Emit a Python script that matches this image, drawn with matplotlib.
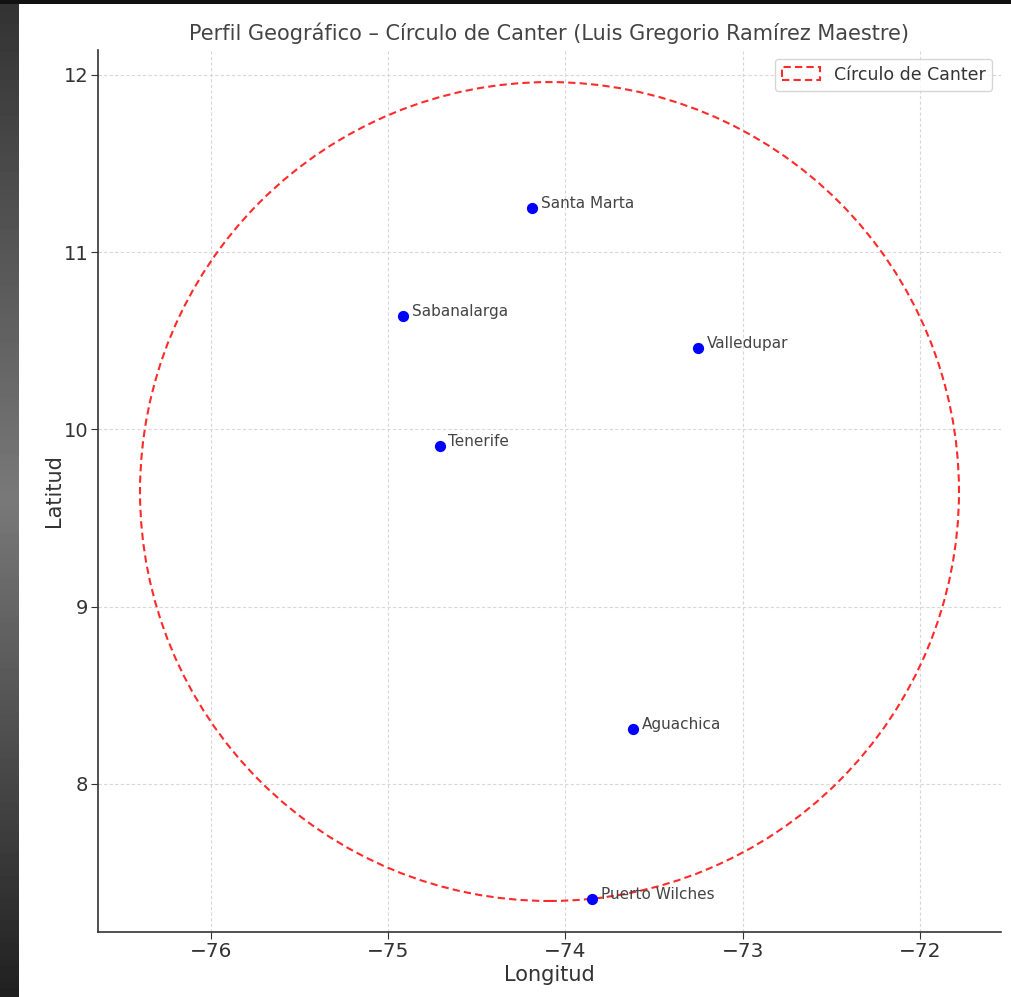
import numpy as np
import matplotlib
matplotlib.use("Agg")
import matplotlib.pyplot as plt
from matplotlib.patches import Circle

# Ciudades y coordenadas
ciudades = ['Santa Marta', 'Sabanalarga', 'Valledupar', 'Tenerife', 'Aguachica', 'Puerto Wilches']
longitudes = [-74.19, -74.915, -73.25, -74.71, -73.62, -73.85]
latitudes = [11.25, 10.64, 10.46, 9.905, 8.31, 7.35]

# Círculo de Canter
centro = (-74.09, 9.65)
radio = 2.31

xticks = [-76, -75, -74, -73, -72]
yticks = [8, 9, 10, 11, 12]

W, H = 1012, 997
fig = plt.figure(figsize=(W / 100, H / 100), dpi=100)
fig.patch.set_facecolor('white')

# borde oscuro de la captura de pantalla
borde = fig.add_axes([0, 0, 19 / W, 1])
grad = np.concatenate([np.linspace(0.2, 0.47, 50), np.linspace(0.47, 0.13, 50)])
borde.imshow(grad[:, None], cmap='gray', vmin=0, vmax=1, aspect='auto', interpolation='bilinear')
borde.axis('off')
arriba = fig.add_axes([0, 1 - 4 / H, 1, 4 / H])
arriba.set_facecolor('#111111')
arriba.set_xticks([])
arriba.set_yticks([])
for s in arriba.spines.values():
    s.set_visible(False)

ax = fig.add_axes([98 / W, 65 / H, 903 / W, 882 / H])
ax.set_xlim(-76.637, -71.543)
ax.set_ylim(7.165, 12.141)
ax.set_aspect('equal', adjustable='datalim')

circulo = Circle(centro, radio, fill=False, edgecolor='#ff2a2a', linestyle=(0, (3.5, 2)),
                 linewidth=1.5, label='Círculo de Canter')
ax.add_patch(circulo)

ax.scatter(longitudes, latitudes, color='blue', s=50, zorder=3)
for nombre, lon, lat in zip(ciudades, longitudes, latitudes):
    ax.text(lon + 0.05, lat, nombre, fontsize=11, color='#444444')

ax.set_xticks(xticks)
ax.set_yticks(yticks)
ax.set_xticklabels([f'\u2212{abs(t)}' for t in xticks])
ax.tick_params(labelsize=14.5, colors='#333333', length=5, pad=2)
ax.tick_params(axis='y', labelsize=14)
ax.grid(True, linestyle=(0, (3, 2)), color='#d8d8d8', linewidth=0.8)
ax.set_axisbelow(True)
for s in ['top', 'right']:
    ax.spines[s].set_visible(False)
for s in ['left', 'bottom']:
    ax.spines[s].set_color('#333333')
    ax.spines[s].set_linewidth(1.2)

ax.set_title('Perfil Geográfico – Círculo de Canter (Luis Gregorio Ramírez Maestre)',
             fontsize=15, color='#444444', pad=7)
ax.set_xlabel('Longitud', fontsize=15, color='#333333', labelpad=3)
ax.set_ylabel('Latitud', fontsize=15, color='#333333', labelpad=0)
ax.legend(loc='upper right', fontsize=12.5, labelcolor='#333333', borderaxespad=0.5,
          handlelength=2.2)

fig.savefig('out.png', dpi=100)
